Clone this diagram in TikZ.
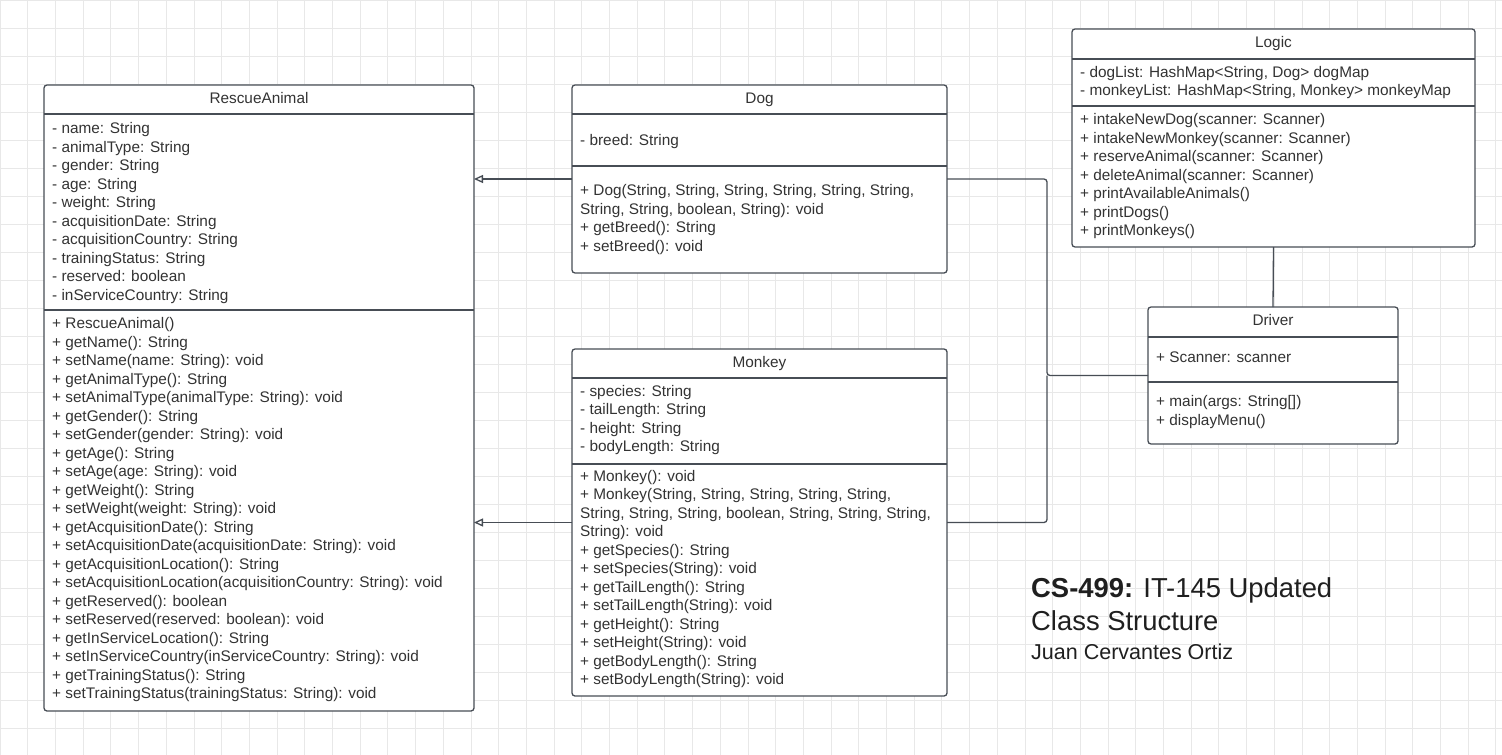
\documentclass[tikz,border=0pt]{standalone}
\usepackage{fontspec}
\setmainfont{Liberation Sans}
\usetikzlibrary{arrows.meta}
\definecolor{umlline}{HTML}{474D55}
\definecolor{umltext}{HTML}{333333}
\definecolor{gridgray}{HTML}{E8E8E8}
\tikzset{
  classbox/.style={draw=umlline, line width=1.3pt, rounded corners=3pt, fill=white, inner sep=0pt, outer sep=0pt},
  divider/.style={draw=umlline, line width=1.1pt},
  classtitle/.style={text=umltext, inner sep=0pt, execute at begin node=\strut},
  members/.style={text=umltext, align=left, anchor=west, inner sep=0pt, execute at begin node=\strut, execute at end node=\strut},
  assoc/.style={draw=umlline, line width=1.3pt, rounded corners=3pt},
  extends/.style={draw=umlline, line width=1.3pt, -{Triangle[open, length=9pt, width=8pt]}},
}
\begin{document}
\begin{tikzpicture}[x=1pt, y=-1pt, every node/.style={font=\fontsize{15.35}{18.5}\selectfont}]
   \useasboundingbox (0,0) rectangle (1502,755);
   \fill[white] (0,0) rectangle (1502,755);
   \draw[gridgray, line width=0.8pt, xstep=27.7pt, ystep=28pt] (0,0) grid (1502,755);

   % class boxes
   \node[classbox, minimum width=430pt, minimum height=626pt] (ra) at (259,398) {};
   \node[classbox, minimum width=375pt, minimum height=188pt] (dog) at (759.5,179) {};
   \node[classbox, minimum width=375pt, minimum height=347pt] (monkey) at (759.5,522.5) {};
   \node[classbox, minimum width=403pt, minimum height=218pt] (logic) at (1273.5,138) {};
   \node[classbox, minimum width=250pt, minimum height=137pt] (driver) at (1273,375.5) {};

   % dividers
   \draw[divider] (44,114) -- (474,114);
   \draw[divider] (44,310) -- (474,310);
   \draw[divider] (572,114) -- (947,114);
   \draw[divider] (572,166) -- (947,166);
   \draw[divider] (572,378) -- (947,378);
   \draw[divider] (572,464) -- (947,464);
   \draw[divider] (1072,59) -- (1475,59);
   \draw[divider] (1072,106) -- (1475,106);
   \draw[divider] (1148,337) -- (1398,337);
   \draw[divider] (1148,382) -- (1398,382);

   % RescueAnimal
   \node[classtitle] (ra-title) at (259,100) {RescueAnimal};
   \node[members] (ra-attr) at (52,214) {- name: String\\- animalType: String\\- gender: String\\- age: String\\- weight: String\\- acquisitionDate: String\\- acquisitionCountry: String\\- trainingStatus: String\\- reserved: boolean\\- inServiceCountry: String};
   \node[members] (ra-ops) at (52,511) {+ RescueAnimal()\\+ getName(): String\\+ setName(name: String): void\\+ getAnimalType(): String\\+ setAnimalType(animalType: String): void\\+ getGender(): String\\+ setGender(gender: String): void\\+ getAge(): String\\+ setAge(age: String): void\\+ getWeight(): String\\+ setWeight(weight: String): void\\+ getAcquisitionDate(): String\\+ setAcquisitionDate(acquisitionDate: String): void\\+ getAcquisitionLocation(): String\\+ setAcquisitionLocation(acquisitionCountry: String): void\\+ getReserved(): boolean\\+ setReserved(reserved: boolean): void\\+ getInServiceLocation(): String\\+ setInServiceCountry(inServiceCountry: String): void\\+ getTrainingStatus(): String\\+ setTrainingStatus(trainingStatus: String): void};

   % Dog
   \node[classtitle] (dog-title) at (759.5,100) {Dog};
   \node[members] (dog-attr) at (580,141.5) {- breed: String};
   \node[members] (dog-ops) at (580,220.5) {+ Dog(String, String, String, String, String, String,\\String, String, boolean, String): void\\+ getBreed(): String\\+ setBreed(): void};

   % Monkey
   \node[classtitle] (monkey-title) at (759.5,364) {Monkey};
   \node[members] (monkey-attr) at (580,421) {- species: String\\- tailLength: String\\- height: String\\- bodyLength: String};
   \node[members] (monkey-ops) at (580,580) {+ Monkey(): void\\+ Monkey(String, String, String, String, String,\\String, String, String, boolean, String, String, String,\\String): void\\+ getSpecies(): String\\+ setSpecies(String): void\\+ getTailLength(): String\\+ setTailLength(String): void\\+ getHeight(): String\\+ setHeight(String): void\\+ getBodyLength(): String\\+ setBodyLength(String): void};

   % Logic
   \node[classtitle] (logic-title) at (1273.5,44) {Logic};
   \node[members] (logic-attr) at (1080,83.5) {- dogList: HashMap<String, Dog> dogMap\\- monkeyList: HashMap<String, Monkey> monkeyMap};
   \node[members] (logic-ops) at (1080,177.5) {+ intakeNewDog(scanner: Scanner)\\+ intakeNewMonkey(scanner: Scanner)\\+ reserveAnimal(scanner: Scanner)\\+ deleteAnimal(scanner: Scanner)\\+ printAvailableAnimals()\\+ printDogs()\\+ printMonkeys()};

   % Driver
   \node[classtitle] (driver-title) at (1273,322) {Driver};
   \node[members] (driver-attr) at (1156,359) {+ Scanner: scanner};
   \node[members] (driver-ops) at (1156,413) {+ main(args: String[])\\+ displayMenu()};

   % connectors
   \coordinate (bus) at (1047,375.5);
   \draw[extends] (dog.west) -- (dog.west -| ra.east);
   \draw[extends] (monkey.west) -- (monkey.west -| ra.east);
   \draw[assoc] (driver.west) -- (bus) |- (dog.east);
   \draw[assoc] (bus) |- (monkey.east);
   \draw[assoc] (logic.south) -- (driver.north);

   % heading
   \node[anchor=base west, inner sep=0pt, text=black!88, font=\fontsize{27.4}{33}\selectfont] (heading) at (1031,597) {\textbf{CS-499:} IT-145 Updated};
   \node[anchor=base west, inner sep=0pt, text=black!88, font=\fontsize{27.4}{33}\selectfont] (subheading) at (1031,630.5) {Class Structure};
   \node[anchor=base west, inner sep=0pt, text=black!88, font=\fontsize{21.5}{25}\selectfont] (author) at (1031,659) {Juan Cervantes Ortiz};
\end{tikzpicture}
\end{document}
